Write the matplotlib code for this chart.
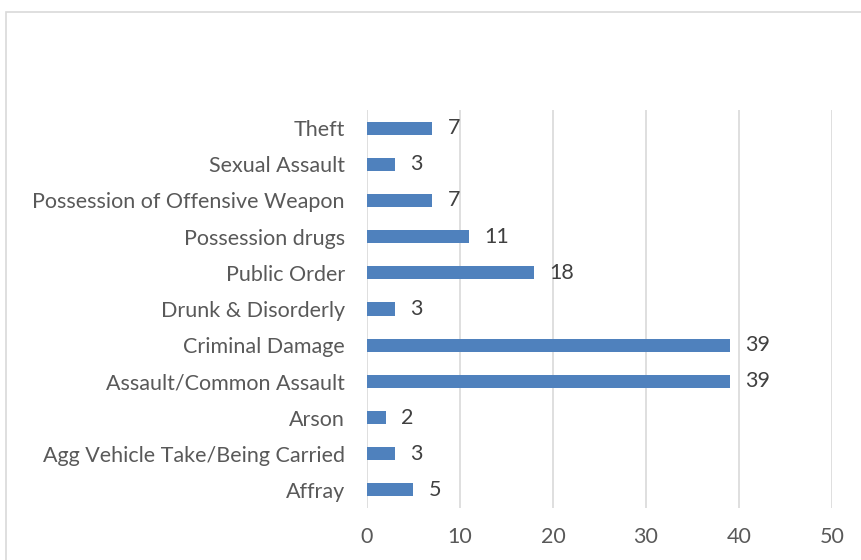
import matplotlib
matplotlib.use("Agg")
import matplotlib.pyplot as plt
from matplotlib.patches import Rectangle

categories = ["Affray", "Agg Vehicle Take/Being Carried", "Arson",
              "Assault/Common Assault", "Criminal Damage", "Drunk & Disorderly",
              "Public Order", "Possession drugs", "Possession of Offensive Weapon",
              "Sexual Assault", "Theft"]
counts = [5, 3, 2, 39, 39, 3, 18, 11, 7, 3, 7]
xticks = [0, 10, 20, 30, 40, 50]

plt.rcParams['font.family'] = ['Lato', 'DejaVu Sans']

fig = plt.figure(figsize=(8.62, 5.6), dpi=100)
# chart frame
fig.patches.append(Rectangle((6/862, -0.1), 1.0, 1 - 12/560 + 0.1,
                             transform=fig.transFigure, fill=False,
                             edgecolor='#d9d9d9', linewidth=1.2))

ax = fig.add_axes([367/862, 52/560, 465/862, 398/560])
y = list(range(len(categories)))
ax.barh(y, counts, height=0.36, color='#4f81bd', zorder=3)
for yi, c in zip(y, counts):
    ax.annotate(str(c), (c, yi), xytext=(11, 0), textcoords='offset points',
                va='center', ha='left', fontsize=15.5, color='#404040')

ax.set_xlim(0, 50)
ax.set_ylim(-0.5, len(categories) - 0.5)
ax.set_xticks(xticks)
ax.set_yticks(y)
ax.set_yticklabels(categories)
ax.grid(axis='x', color='#d9d9d9', linewidth=1.2, zorder=0)
for s in ax.spines.values():
    s.set_visible(False)
ax.tick_params(length=0, labelsize=15.5, colors='#595959', pad=16)
ax.tick_params(axis='x', pad=14)

fig.savefig("out.png", dpi=100)
